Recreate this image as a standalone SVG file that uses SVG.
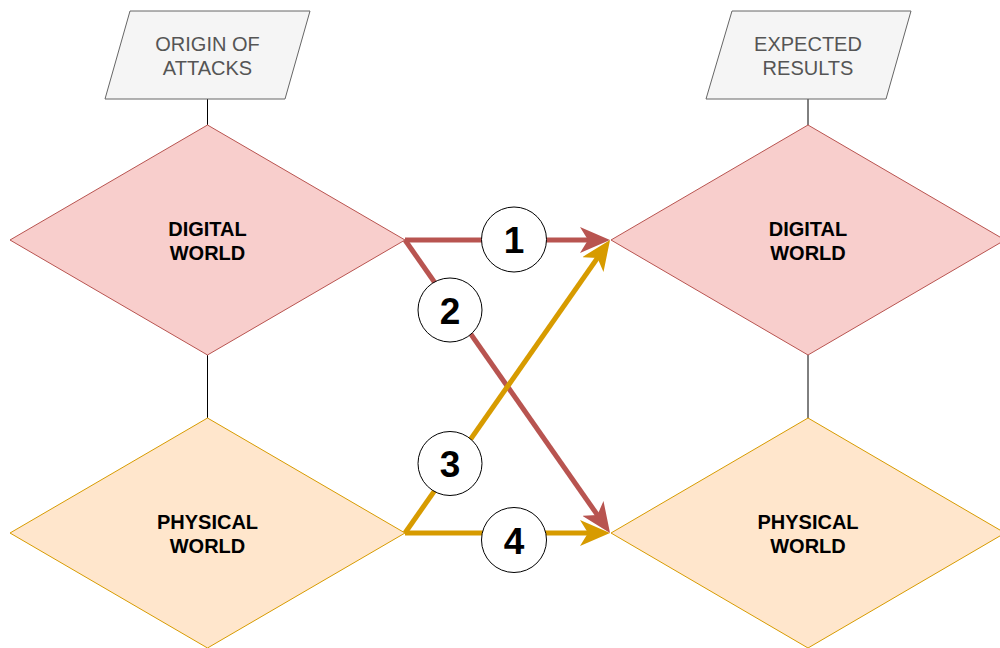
<svg xmlns="http://www.w3.org/2000/svg" width="1000" height="648" viewBox="0 0 1000 648">
<style>
.io{fill:#f5f5f5;stroke:#666666;stroke-width:1}
.dg{fill:#f8cecc;stroke:#b85450;stroke-width:1}
.ph{fill:#ffe6cc;stroke:#d79b00;stroke-width:1}
.lbl{font-family:"Liberation Sans",Arial,sans-serif;font-size:20px;fill:#555555;text-anchor:middle}
.bold{font-family:"Liberation Sans",Arial,sans-serif;font-size:20px;font-weight:bold;fill:#000000;text-anchor:middle}
.num{font-family:"Liberation Sans",Arial,sans-serif;font-size:37px;font-weight:bold;fill:#000000;text-anchor:middle}
.thin{stroke:#000000;stroke-width:1;fill:none}
.red{stroke:#b85450;stroke-width:5;fill:none}
.yel{stroke:#d79b00;stroke-width:5;fill:none}
.circ{fill:#ffffff;stroke:#000000;stroke-width:1}
</style>
<defs>
<marker id="ar" markerUnits="userSpaceOnUse" markerWidth="30" markerHeight="26" refX="20" refY="13" orient="auto" viewBox="0 0 30 26">
<path d="M0,0 L30,13 L0,26 L8,13 z" fill="#b85450"/>
</marker>
<marker id="ay" markerUnits="userSpaceOnUse" markerWidth="30" markerHeight="26" refX="20" refY="13" orient="auto" viewBox="0 0 30 26">
<path d="M0,0 L30,13 L0,26 L8,13 z" fill="#d79b00"/>
</marker>
</defs>
<rect width="1000" height="648" fill="#ffffff"/>
<g id="links">
<line class="thin" x1="207.5" y1="99" x2="207.5" y2="125"/>
<line class="thin" x1="207.5" y1="355" x2="207.5" y2="418"/>
<line class="thin" x1="808" y1="99" x2="808" y2="125"/>
<line class="thin" x1="808" y1="355" x2="808" y2="418"/>
</g>
<g id="origin">
<polygon class="io" points="130,11 310,11 285,99 105,99"/>
<text class="lbl" x="207.5" y="51">ORIGIN OF</text>
<text class="lbl" x="207.5" y="75">ATTACKS</text>
</g>
<g id="expected">
<polygon class="io" points="732,11 911,11 886,99 706,99"/>
<text class="lbl" x="808" y="51">EXPECTED</text>
<text class="lbl" x="808" y="75">RESULTS</text>
</g>
<g id="digital-left">
<polygon class="dg" points="207.5,125 405,240 207.5,355 10,240"/>
<text class="bold" x="207.5" y="236">DIGITAL</text>
<text class="bold" x="207.5" y="260">WORLD</text>
</g>
<g id="physical-left">
<polygon class="ph" points="207.5,418 405,533 207.5,648 10,533"/>
<text class="bold" x="207.5" y="529">PHYSICAL</text>
<text class="bold" x="207.5" y="553">WORLD</text>
</g>
<g id="digital-right">
<polygon class="dg" points="808,125 1005,240 808,355 611,240"/>
<text class="bold" x="808" y="236">DIGITAL</text>
<text class="bold" x="808" y="260">WORLD</text>
</g>
<g id="physical-right">
<polygon class="ph" points="808,418 1005,533 808,648 611,533"/>
<text class="bold" x="808" y="529">PHYSICAL</text>
<text class="bold" x="808" y="553">WORLD</text>
</g>
<g id="connectors">
<line class="red" x1="405" y1="240" x2="600" y2="240" marker-end="url(#ar)"/>
<line class="red" x1="405" y1="240" x2="604.3" y2="524.8" marker-end="url(#ar)"/>
<line class="yel" x1="405" y1="533" x2="604.3" y2="248.2" marker-end="url(#ay)"/>
<line class="yel" x1="405" y1="533" x2="600" y2="533" marker-end="url(#ay)"/>
</g>
<g id="label-1">
<circle class="circ" cx="514" cy="239.5" r="32.5"/>
<text class="num" x="514" y="253">1</text>
</g>
<g id="label-2">
<circle class="circ" cx="450" cy="310" r="32"/>
<text class="num" x="450" y="323.5">2</text>
</g>
<g id="label-3">
<circle class="circ" cx="450" cy="463.5" r="32"/>
<text class="num" x="450" y="477">3</text>
</g>
<g id="label-4">
<circle class="circ" cx="514" cy="540" r="32.5"/>
<text class="num" x="514" y="553.5">4</text>
</g>
</svg>
